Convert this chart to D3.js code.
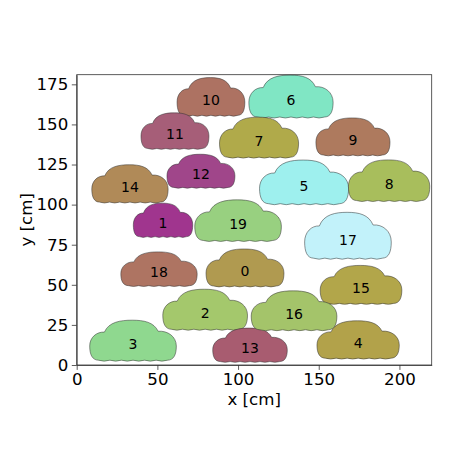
<!DOCTYPE html>
<html>
<head>
<meta charset="utf-8">
<script src="https://cdn.jsdelivr.net/npm/d3@7"></script>
<style>
  body { margin: 0; background: #fff; }
  text { font-family: "DejaVu Sans", sans-serif; }
</style>
</head>
<body>
<div class="chart-container"></div>
<script>
// cloud ids, label positions (cm) and cloud sizes (cm)
const ids     = [0, 1, 2, 3, 4, 5, 6, 7, 8, 9, 10, 11, 12, 13, 14, 15, 16, 17, 18, 19];
const xs      = [104.3, 53.5, 79.6, 34.9, 174.4, 140.9, 132.8, 113.0, 193.6, 171.2, 83.2, 60.9, 77.0, 107.4, 33.0, 176.2, 134.7, 168.1, 51.0, 100.0];
const ys      = [58.6, 88.5, 32.4, 13.1, 13.7, 111.6, 165.2, 139.7, 112.8, 140.3, 165.2, 144.0, 119.1, 10.6, 111.0, 48.0, 31.8, 78.2, 58.0, 87.9];
const widths  = [48.3, 36.8, 52.5, 53.7, 51.0, 55.2, 52.2, 49.0, 50.4, 45.9, 42.0, 42.1, 42.1, 46.2, 47.3, 50.6, 53.1, 53.7, 47.3, 53.7];
const heights = [23.7, 21.4, 25.6, 25.6, 23.9, 27.9, 26.8, 25.6, 26.0, 23.7, 24.1, 22.8, 21.2, 21.4, 23.9, 24.3, 24.9, 29.3, 21.6, 26.0];
const colors  = ["#b09a50", "#a0358e", "#a4c86c", "#8fd88f", "#b2a24a", "#9ef0ee", "#80e6c4", "#b0aa4a", "#a8be5c", "#ae7a5e",
                 "#ad7262", "#a65e78", "#a0468a", "#a85c70", "#b08a58", "#b2a64a", "#a4c46a", "#c2f2fa", "#ae7462", "#98d080"];
const xTicks = [0, 50, 100, 150, 200];
const yTicks = [0, 25, 50, 75, 100, 125, 150, 175];

const W = 450, H = 450;
const margin = {top: 74.7, right: 18.3, bottom: 85, left: 76.7};
const width = W - margin.left - margin.right,
      height = H - margin.top - margin.bottom;

const svg = d3.select(".chart-container")
    .append("svg")
    .attr("width", W)
    .attr("height", H);

const g = svg.append("g")
    .attr("transform", `translate(${margin.left},${margin.top})`);

const xScale = d3.scaleLinear().domain([0, 220]).range([0, width]);
const yScale = d3.scaleLinear().domain([0, 181]).range([height, 0]);

// cloud outline, anchored at the label point
function cloudPath(cx, cy, w, h) {
    const p = (u, v) => `${(cx + (u - 0.5) * w).toFixed(2)},${(cy + (v - 0.58) * h).toFixed(2)}`;
    let d = `M${p(0.17, 0.29)}`;
    d += `C${p(0.22, 0.04)} ${p(0.36, 0.0)} ${p(0.49, 0.0)}`;
    d += `C${p(0.63, 0.0)} ${p(0.74, 0.05)} ${p(0.79, 0.27)}`;
    d += `C${p(0.9, 0.25)} ${p(1.0, 0.4)} ${p(1.0, 0.63)}`;
    d += `C${p(1.0, 0.84)} ${p(0.97, 0.97)} ${p(0.9, 0.975)}`;
    const n = 6;
    for (let i = 0; i < n; i++) {
        const u0 = 0.9 - 0.8 * i / n, u1 = 0.9 - 0.8 * (i + 1) / n;
        d += `Q${p((u0 + u1) / 2, 1.02)} ${p(u1, 0.975)}`;
    }
    d += `C${p(0.03, 0.97)} ${p(0.0, 0.84)} ${p(0.0, 0.63)}`;
    d += `C${p(0.0, 0.42)} ${p(0.08, 0.28)} ${p(0.17, 0.29)}Z`;
    return d;
}

const clouds = g.selectAll(".cloud")
    .data(ids)
    .enter()
    .append("g")
    .attr("class", "cloud");

clouds.append("path")
    .attr("d", i => cloudPath(xScale(xs[i]), yScale(ys[i]),
                              xScale(widths[i]) - xScale(0),
                              yScale(0) - yScale(heights[i])))
    .attr("fill", i => colors[i])
    .attr("stroke", "#333")
    .attr("stroke-opacity", 0.65)
    .attr("stroke-width", 0.8);

clouds.append("text")
    .attr("x", i => xScale(xs[i]))
    .attr("y", i => yScale(ys[i]))
    .attr("text-anchor", "middle")
    .attr("dominant-baseline", "central")
    .attr("font-size", "14px")
    .attr("fill", "#000")
    .text(i => i);

// frame
g.append("rect")
    .attr("width", width)
    .attr("height", height)
    .attr("fill", "none")
    .attr("stroke", "#333")
    .attr("stroke-width", 0.8);

const xAxis = g.append("g")
    .attr("transform", `translate(0,${height})`)
    .call(d3.axisBottom(xScale).tickValues(xTicks).tickSize(4.9).tickPadding(3.5).tickSizeOuter(0));

const yAxis = g.append("g")
    .call(d3.axisLeft(yScale).tickValues(yTicks).tickSize(4.9).tickPadding(3.5).tickSizeOuter(0));

[xAxis, yAxis].forEach(a => {
    a.select(".domain").attr("stroke", "#333").attr("stroke-width", 0.8);
    a.selectAll(".tick line").attr("stroke", "#333").attr("stroke-width", 0.8);
    a.selectAll(".tick text")
        .attr("font-family", "DejaVu Sans, sans-serif")
        .attr("font-size", "16.67px")
        .attr("fill", "#000");
});

svg.append("text")
    .attr("x", margin.left + width / 2)
    .attr("y", 405)
    .attr("text-anchor", "middle")
    .attr("font-size", "16.67px")
    .text("x [cm]");

svg.append("text")
    .attr("transform", `translate(32,${margin.top + height / 2}) rotate(-90)`)
    .attr("text-anchor", "middle")
    .attr("font-size", "16.67px")
    .text("y [cm]");
</script>
</body>
</html>
